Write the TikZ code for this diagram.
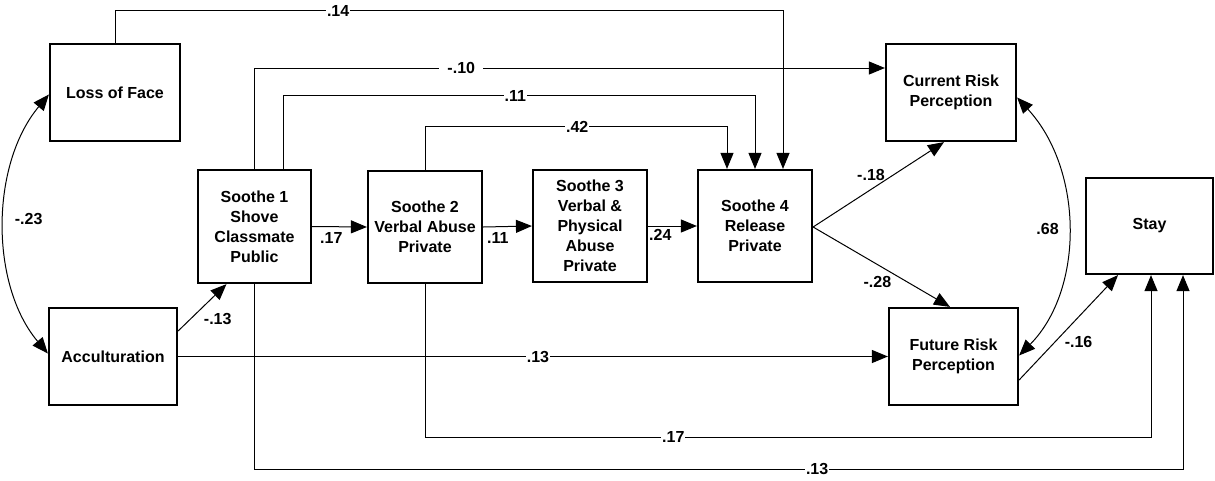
\documentclass[tikz,border=0pt]{standalone}
\usepackage{fontspec}
\setmainfont{Liberation Sans}
\usetikzlibrary{arrows.meta}
\begin{document}
\begin{tikzpicture}[x=1pt,y=-1pt,
  txt/.style={font=\fontsize{16}{20}\selectfont\bfseries},
  box/.style={draw, line width=2.2pt, align=center, txt, inner sep=0pt},
  arr/.style={line width=1pt, -{Triangle[length=16pt,width=13pt]}},
  darr/.style={line width=1pt, {Triangle[length=16pt,width=13pt]}-{Triangle[length=16pt,width=13pt]}},
  lab/.style={fill=white, inner sep=1pt, txt},
  plab/.style={inner sep=0pt, txt}
]
\useasboundingbox (0,0) rectangle (1215,480);

\node[box, minimum width=130pt, minimum height=97pt] (loss) at (115,92.5) {Loss of Face};
\node[box, minimum width=113pt, minimum height=113pt] (s1) at (254.5,226.5) {Soothe 1\\Shove\\Classmate\\Public};
\node[box, minimum width=114pt, minimum height=112pt] (s2) at (425,227) {Soothe 2\\Verbal Abuse\\Private};
\node[box, minimum width=114pt, minimum height=112pt] (s3) at (590,226) {Soothe 3\\Verbal \&\\Physical\\Abuse\\Private};
\node[box, minimum width=114pt, minimum height=112pt] (s4) at (755,226) {Soothe 4\\Release\\Private};
\node[box, minimum width=130pt, minimum height=97pt] (cur) at (951,92.5) {Current Risk\\Perception};
\node[box, minimum width=127pt, minimum height=96pt] (stay) at (1149.5,226) {Stay};
\node[box, minimum width=128pt, minimum height=97pt] (acc) at (113,356.5) {Acculturation};
\node[box, minimum width=129pt, minimum height=97pt] (fut) at (953.5,356.5) {Future Risk\\Perception};

% top routed paths
\draw[arr] (loss.north) -- ++(0,-32) -| node[lab,pos=0.167]{.14} ([xshift=28pt]s4.north);
\draw[arr] (s1.north) |- node[fill=white, inner ysep=1pt, inner xsep=8pt, txt, pos=0.664]{-.10} ([yshift=24.5pt]cur.west);
\draw[arr] ([xshift=28.5pt]s1.north) -- ++(0,-73) -| node[lab,pos=0.246]{.11} (s4.north);
\draw[arr] (s2.north) -- ++(0,-43) -| node[lab,pos=0.252]{.42} ([xshift=-28pt]s4.north);

% chain
\draw[arr] (s1.east) -- node[plab,pos=0.35,below=5pt]{.17} (s2.west);
\draw[arr] (s2.east) -- node[plab,pos=0.3,below=5pt]{.11} (s3.west);
\draw[arr] (s3.east) -- node[plab,pos=0.25,below=3pt]{.24} (s4.west);

% soothe 4 to risks
\draw[arr] ([yshift=-1pt]s4.east) -- node[plab,pos=0.45,yshift=14pt,xshift=-1pt]{-.18} ([xshift=-7pt]cur.south);
\draw[arr] ([yshift=-1pt]s4.east) -- node[plab,pos=0.47,yshift=-17pt]{-.28} ([xshift=-3.5pt]fut.north);

% acculturation
\draw[arr] ([yshift=25.5pt]acc.east) -- node[plab,pos=0.55,xshift=13pt,yshift=-14pt]{-.13} ([xshift=-28pt]s1.south);
\draw[arr] (acc.east) -- node[lab,pos=0.507]{.13} (fut.west);

% bottom routed paths
\draw[arr] (s2.south) -- ++(0,153) -| node[lab,pos=0.171]{.17} ([xshift=1.5pt]stay.south);
\draw[arr] (s1.south) -- ++(0,185) -| node[lab,pos=0.303]{.13} ([xshift=33.5pt]stay.south);

% future to stay
\draw[arr] ([yshift=-23.5pt]fut.east) -- node[plab,pos=0.5,xshift=10pt,yshift=-14pt]{-.16} ([xshift=-31.5pt]stay.south);

% correlations
\draw[darr] ([yshift=-2pt]loss.west) .. controls (-10,165) and (-10,285) .. node[plab,pos=0.48,xshift=24pt]{-.23} ([yshift=3pt]acc.west);
\draw[darr] ([yshift=-5pt]cur.east) .. controls (1084,170) and (1084,290) .. node[plab,pos=0.5,xshift=-20pt]{.68} ([yshift=1pt]fut.east);
\end{tikzpicture}
\end{document}
